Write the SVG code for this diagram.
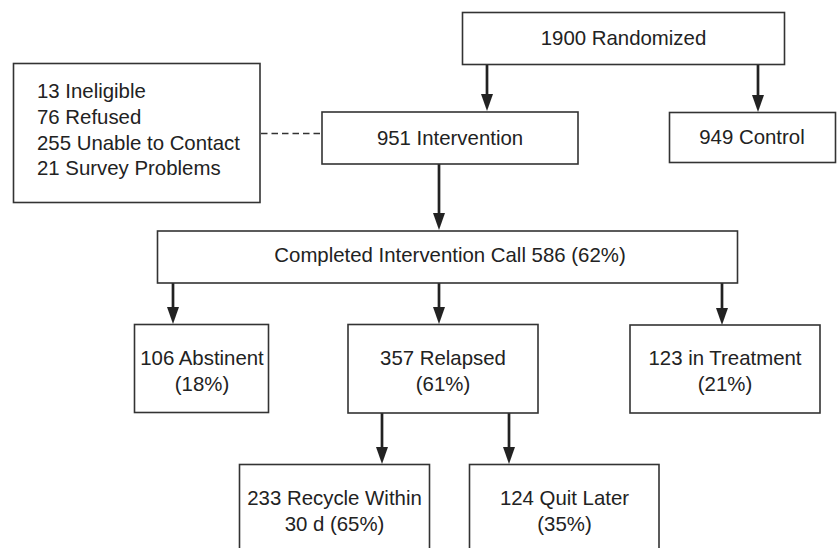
<svg xmlns="http://www.w3.org/2000/svg" width="837" height="548" viewBox="0 0 837 548">
<defs>
<style>
.box{fill:#fff;stroke:#333;stroke-width:1.6}
.t{font-family:"Liberation Sans",Arial,sans-serif;font-size:20.4px;fill:#222;text-anchor:middle}
.tl{font-family:"Liberation Sans",Arial,sans-serif;font-size:20.4px;fill:#222}
.ln{stroke:#222;stroke-width:2.7;fill:none}
.hd{fill:#222}
.dash{stroke:#333;stroke-width:1.5;fill:none;stroke-dasharray:6.5 4}
</style>
</defs>
<rect width="837" height="548" fill="#fff"/>
<g id="connectors">
<path class="dash" d="M261,133.5 H322"/>
<line class="ln" x1="487" y1="64" x2="487" y2="96"/>
<polygon class="hd" points="481,94 493,94 487,111"/>
<line class="ln" x1="758" y1="64" x2="758" y2="96"/>
<polygon class="hd" points="752,95 764,95 758,112"/>
<line class="ln" x1="439" y1="164" x2="439" y2="215"/>
<polygon class="hd" points="433,213 445,213 439,230"/>
<line class="ln" x1="173" y1="283" x2="173" y2="309"/>
<polygon class="hd" points="167,307 179,307 173,324"/>
<line class="ln" x1="439" y1="283" x2="439" y2="309"/>
<polygon class="hd" points="433,307 445,307 439,324"/>
<line class="ln" x1="722" y1="283" x2="722" y2="310"/>
<polygon class="hd" points="716,308 728,308 722,325"/>
<line class="ln" x1="382" y1="413" x2="382" y2="449"/>
<polygon class="hd" points="376,447 388,447 382,464"/>
<line class="ln" x1="509" y1="413" x2="509" y2="449"/>
<polygon class="hd" points="503,447 515,447 509,464"/>
</g>
<g id="randomized">
<rect class="box" x="462.5" y="12.5" width="322" height="52"/>
<text class="t" x="623.5" y="45">1900 Randomized</text>
</g>
<g id="excluded">
<rect class="box" x="13.5" y="63.5" width="246.5" height="139"/>
<text class="tl" x="37" y="98">13 Ineligible</text>
<text class="tl" x="37" y="123.5">76 Refused</text>
<text class="tl" x="37" y="149.5">255 Unable to Contact</text>
<text class="tl" x="37" y="175">21 Survey Problems</text>
</g>
<g id="intervention">
<rect class="box" x="322" y="112" width="256" height="52"/>
<text class="t" x="450" y="145">951 Intervention</text>
</g>
<g id="control">
<rect class="box" x="669.5" y="112.5" width="166" height="50"/>
<text class="t" x="752" y="144">949 Control</text>
</g>
<g id="completed">
<rect class="box" x="157.5" y="231" width="580" height="52"/>
<text class="t" x="450" y="262">Completed Intervention Call 586 (62%)</text>
</g>
<g id="abstinent">
<rect class="box" x="134.5" y="324.5" width="134" height="88"/>
<text class="t" x="202" y="365">106 Abstinent</text>
<text class="t" x="202" y="391">(18%)</text>
</g>
<g id="relapsed">
<rect class="box" x="348" y="324.5" width="190" height="88.5"/>
<text class="t" x="443" y="365">357 Relapsed</text>
<text class="t" x="443" y="391">(61%)</text>
</g>
<g id="treatment">
<rect class="box" x="630" y="325" width="190" height="88"/>
<text class="t" x="725" y="365">123 in Treatment</text>
<text class="t" x="725" y="391">(21%)</text>
</g>
<g id="recycle">
<rect class="box" x="239.5" y="464.5" width="190" height="100"/>
<text class="t" x="334.5" y="505">233 Recycle Within</text>
<text class="t" x="334.5" y="531">30 d (65%)</text>
</g>
<g id="quit">
<rect class="box" x="469.5" y="464.5" width="189.5" height="100"/>
<text class="t" x="564.5" y="505">124 Quit Later</text>
<text class="t" x="564.5" y="531">(35%)</text>
</g>
</svg>
